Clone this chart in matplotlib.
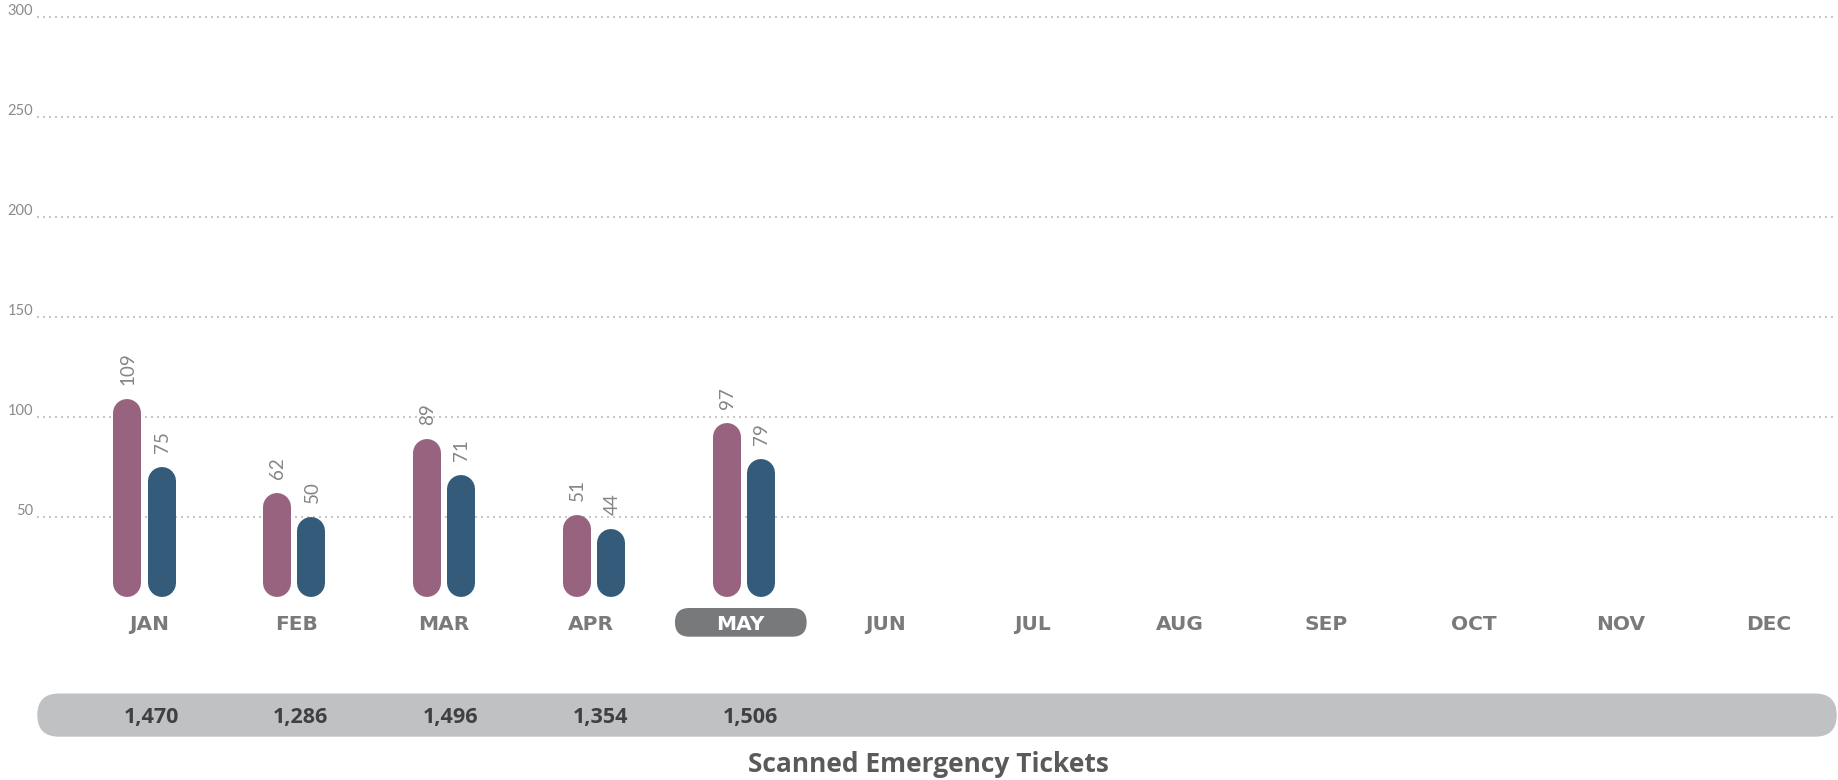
import matplotlib
matplotlib.use("Agg")
import matplotlib.pyplot as plt
from matplotlib.patches import FancyBboxPatch
from matplotlib.transforms import IdentityTransform

# ---------------- data ----------------
months = ["JAN", "FEB", "MAR", "APR", "MAY", "JUN", "JUL", "AUG", "SEP", "OCT", "NOV", "DEC"]
series_a = [109, 62, 89, 51, 97]          # purple bars
series_b = [75, 50, 71, 44, 79]           # blue bars
totals = ["1,470", "1,286", "1,496", "1,354", "1,506"]
yticks = [50, 100, 150, 200, 250, 300]
highlight = "MAY"
title = "Scanned Emergency Tickets"

# ---------------- style ----------------
plt.rcParams['font.family'] = ['Lato', 'DejaVu Sans']
HEAD = ['Open Sans', 'DejaVu Sans']
WIDE = ['DejaVu Sans']
C_A = "#98637F"
C_B = "#345C7A"
C_GRID = "#c8c8c8"
C_TICK = "#8a8a8a"
C_VAL = "#858585"
C_MONTH = "#7a7a7a"
C_PILL = "#78797b"
C_BAND = "#c0c1c3"
C_TOTAL = "#404040"
C_TITLE = "#5a5a5a"

W, H, DPI = 1838, 780, 100
fig = plt.figure(figsize=(W / DPI, H / DPI), dpi=DPI)
fig.patch.set_facecolor("white")

zero_top, ppu = 617.0, 2.0
ylim = (-(H - zero_top) / ppu, zero_top / ppu)

def full_axes(x0px, dxpx, ylim_, z):
    a = fig.add_axes([0, 0, 1, 1], zorder=z)
    a.patch.set_alpha(0)
    a.set_xlim(-x0px / dxpx, (W - x0px) / dxpx)
    a.set_ylim(*ylim_)
    a.axis("off")
    return a

# ----- axes for bars / grid (group i centred at 144.3 + 149.9*i px)
bx0, bdx = 144.3, 149.9
ax = full_axes(bx0, bdx, ylim, 1)

for v in yticks:
    ax.axhline(v, xmin=37 / W, xmax=1836 / W, color=C_GRID, lw=1.44,
               linestyle=(0, (1, 2)), dash_capstyle="butt", zorder=1)
    ax.annotate(str(v), xy=(33 / W, v), xycoords=("axes fraction", "data"),
                xytext=(0, 1.5), textcoords="offset points",
                ha="right", va="baseline", fontsize=10.5, color=C_TICK)

bar_px = 28.0
lw_pt = bar_px * 72 / DPI
r = (bar_px / 2) / ppu
base = 10
off = 17.2 / bdx
for i, (a, b) in enumerate(zip(series_a, series_b)):
    for xv, val, col in ((i - off, a, C_A), (i + off, b, C_B)):
        ax.plot([xv, xv], [base + r, val - r], color=col, lw=lw_pt,
                solid_capstyle="round", zorder=3)
        ax.annotate(str(val), xy=(xv, val), xytext=(0.5, 10.0),
                    textcoords="offset points", rotation=90,
                    ha="center", va="bottom", fontsize=13.5,
                    color=C_VAL)

# ----- month labels (month i centred at 149 + 147.2*i px)
axm = full_axes(149.0, 147.2, ylim, 2)
label_y = (zero_top - 630) / ppu
for i, m in enumerate(months):
    if m == highlight:
        cx, _ = axm.transData.transform((i, 0))
        cx += 3
        pw, ph = 131.7, 28.7
        py = H - 636.7
        pill = FancyBboxPatch((cx - pw / 2, py), pw, ph,
                              boxstyle=f"round,pad=0,rounding_size={ph/2}",
                              transform=IdentityTransform(), facecolor=C_PILL,
                              edgecolor="none", zorder=2)
        axm.add_artist(pill)
        axm.text(i + 3 / 147.2, label_y, m, ha="center", va="baseline", fontsize=14.5,
                 fontweight="bold", color="white", zorder=4, family=WIDE)
    else:
        axm.text(i, label_y, m, ha="center", va="baseline", fontsize=14.5,
                 fontweight="bold", color=C_MONTH, zorder=4, family=WIDE)

# ----- totals band (total i centred at 151 + 149.9*i px)
axb = full_axes(151.0, 149.9, (0, H), 0)
band = FancyBboxPatch((37.3, H - 736.7), 1836.7 - 37.3, 43.2,
                      boxstyle="round,pad=0,rounding_size=21.6",
                      transform=IdentityTransform(), facecolor=C_BAND,
                      edgecolor="none", zorder=1)
axb.add_artist(band)
for i, t in enumerate(totals):
    axb.text(i, H - 723, t, ha="center", va="baseline", fontsize=15.5,
             fontweight="bold", color=C_TOTAL, zorder=3, family=HEAD)

# ----- title
fig.text(928 / W, (H - 771.5) / H, title, ha="center", va="baseline",
         fontsize=19, fontweight="bold", color=C_TITLE, family=HEAD)

fig.savefig("out.png", dpi=DPI, facecolor="white")
